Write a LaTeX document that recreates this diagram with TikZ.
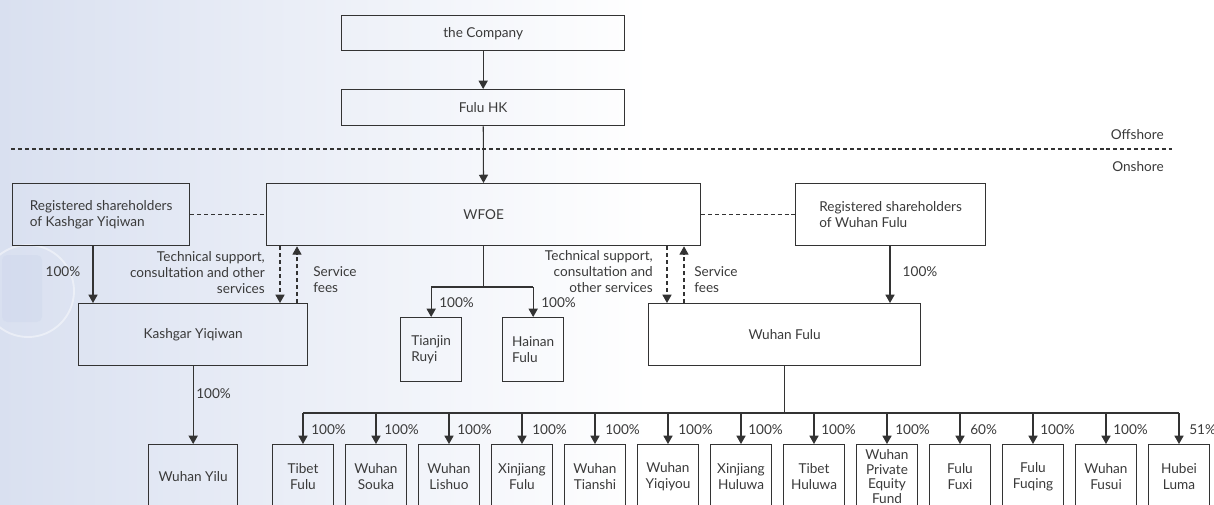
\documentclass[tikz,border=0pt]{standalone}
\usepackage{fontspec}
\setmainfont{Lato}
\usetikzlibrary{arrows.meta}
\definecolor{ink}{HTML}{333333}
\definecolor{txt}{HTML}{3A3A3A}
\definecolor{bgl}{RGB}{217,224,240}
\definecolor{icon}{RGB}{206,215,236}
\begin{document}
\begin{tikzpicture}[x=0.75pt,y=-0.75pt,
  every node/.style={font=\fontsize{10.2}{12}\selectfont, text=txt},
  wh/.style 2 args={minimum width=#1*0.75pt, minimum height=#2*0.75pt},
  box/.style={draw=ink, line width=1pt, anchor=north west, inner sep=0pt, align=center, fill=none},
  cbox/.style={box, wh={61}{64}, anchor=north, align=center},
  lbl/.style={inner sep=0pt},
  arr/.style={draw=ink, line width=0.8pt, -{Triangle[width=6.8pt,length=6.2pt]}},
  ln/.style={draw=ink, line width=0.8pt},
  dsh/.style={draw=ink, line width=0.8pt, dash pattern=on 3pt off 2.2pt}]
\useasboundingbox (0,0) rectangle (1214,504);
% background
\fill[left color=bgl, right color=white] (0,0) rectangle (650,504);
\fill[white] (650,0) rectangle (1214,504);
\draw[white, line width=1.4pt, opacity=0.45] (28,291) circle (46);
\fill[icon, rounded corners=4pt, opacity=0.45] (2,255) rectangle (42,322);

% offshore / onshore divider
\draw[dsh] (11,149) -- (1172,149);
\node[lbl, anchor=east] (off) at (1164,135) {Offshore};
\node[lbl, anchor=east] (on) at (1164,167) {Onshore};

% top boxes
\node[box, wh={283}{35}] (company) at (341,15) {the Company};
\node[box, wh={283}{36}] (fuluhk) at (341,89) {Fulu HK};
\node[box, wh={434}{62}] (wfoe) at (266,183) {WFOE};
\node[box, wh={177}{62}, align=left] (regk) at (12,183) {Registered shareholders\\of Kashgar Yiqiwan};
\node[box, wh={190}{62}, align=left] (regw) at (795,183) {Registered shareholders\\of Wuhan Fulu};
\node[box, wh={229}{62}] (kashgar) at (78,303) {Kashgar Yiqiwan};
\node[box, wh={272}{62}] (wuhanfulu) at (648,303) {Wuhan Fulu};
\node[box, wh={61}{64}, align=left] (tianjin) at (400,317) {Tianjin\\Ruyi};
\node[box, wh={61}{64}, align=left] (hainan) at (502,317) {Hainan\\Fulu};
\node[box, wh={89}{64}] (yilu) at (148,444) {Wuhan Yilu};

% bottom row
\node[cbox] (b1) at (303,444) {Tibet\\Fulu};
\node[cbox] (b2) at (376,444) {Wuhan\\Souka};
\node[cbox] (b3) at (449,444) {Wuhan\\Lishuo};
\node[cbox] (b4) at (522,444) {Xinjiang\\Fulu};
\node[cbox] (b5) at (595,444) {Wuhan\\Tianshi};
\node[cbox] (b6) at (668,444) {Wuhan\\Yiqiyou};
\node[cbox] (b7) at (741,444) {Xinjiang\\Huluwa};
\node[cbox] (b8) at (814,444) {Tibet\\Huluwa};
\node[cbox, font=\fontsize{10.2}{10.9}\selectfont] (b9) at (887,444) {Wuhan\\Private\\Equity\\Fund};
\node[cbox] (b10) at (960,444) {Fulu\\Fuxi};
\node[cbox] (b11) at (1033,444) {Fulu\\Fuqing};
\node[cbox] (b12) at (1106,444) {Wuhan\\Fusui};
\node[cbox] (b13) at (1179,444) {Hubei\\Luma};

% helper coordinates
\coordinate (xk) at (93,0);
\coordinate (xw) at (890,0);
\coordinate (kd) at (280,0);
\coordinate (ku) at (297,0);
\coordinate (wd) at (667,0);
\coordinate (wu) at (684,0);
\coordinate (tbus) at (0,287);
\coordinate (bus) at (0,413);

% connectors
\draw[arr] (company) -- (fuluhk);
\draw[arr] (fuluhk) -- (wfoe);
\draw[dsh] (regk.east) -- (wfoe.west);
\draw[dsh] (wfoe.east) -- (regw.west);
\draw[arr] (regk.south -| xk) -- (kashgar.north -| xk);
\draw[arr] (regw.south -| xw) -- (wuhanfulu.north -| xw);
\draw[arr] (kashgar) -- (yilu);
\draw[dsh, arr, dash pattern=on 3pt off 2.2pt] (wfoe.south -| kd) -- (kashgar.north -| kd);
\draw[dsh, arr, dash pattern=on 3pt off 2.2pt] (kashgar.north -| ku) -- (wfoe.south -| ku);
\draw[dsh, arr, dash pattern=on 3pt off 2.2pt] (wfoe.south -| wd) -- (wuhanfulu.north -| wd);
\draw[dsh, arr, dash pattern=on 3pt off 2.2pt] (wuhanfulu.north -| wu) -- (wfoe.south -| wu);
% WFOE subsidiaries
\draw[ln] (wfoe.south) -- (wfoe.south |- tbus);
\draw[ln] (tianjin.north |- tbus) -- (hainan.north |- tbus);
\draw[arr] (tianjin.north |- tbus) -- (tianjin.north);
\draw[arr] (hainan.north |- tbus) -- (hainan.north);
% Wuhan Fulu subsidiaries
\draw[ln] (wuhanfulu.south) -- (wuhanfulu.south |- bus);
\draw[ln] (b1.north |- bus) -- (b13.north |- bus);
\foreach \b in {b1,b2,b3,b4,b5,b6,b7,b8,b9,b10,b11,b12,b13}
  \draw[arr] (\b.north |- bus) -- (\b.north);

% labels
\node[lbl, align=right, anchor=east] (tsk) at (265,273) {Technical support,\\consultation and other\\services};
\node[lbl, align=left, anchor=west] (sfk) at (313,280) {Service\\fees};
\node[lbl, align=right, anchor=east] (tsw) at (653,272) {Technical support,\\consultation and\\other services};
\node[lbl, align=left, anchor=west] (sfw) at (694,280) {Service\\fees};
\node[lbl] (pk) at (63,272) {100\%};
\node[lbl, anchor=west] (py) at (196,394) {100\%};
\node[lbl] (pw) at (920,272) {100\%};
\node[lbl, anchor=west] (pt) at (439,303) {100\%};
\node[lbl, anchor=west] (ph) at (541,303) {100\%};
\node[lbl, anchor=west] at (311,430) {100\%};
\node[lbl, anchor=west] at (384,430) {100\%};
\node[lbl, anchor=west] at (457,430) {100\%};
\node[lbl, anchor=west] at (532,430) {100\%};
\node[lbl, anchor=west] at (605,430) {100\%};
\node[lbl, anchor=west] at (678,430) {100\%};
\node[lbl, anchor=west] at (748,430) {100\%};
\node[lbl, anchor=west] at (821,430) {100\%};
\node[lbl, anchor=west] at (895,430) {100\%};
\node[lbl, anchor=west] at (970,430) {60\%};
\node[lbl, anchor=west] at (1040,430) {100\%};
\node[lbl, anchor=west] at (1113,430) {100\%};
\node[lbl, anchor=west] at (1189,430) {51\%};
\end{tikzpicture}
\end{document}
